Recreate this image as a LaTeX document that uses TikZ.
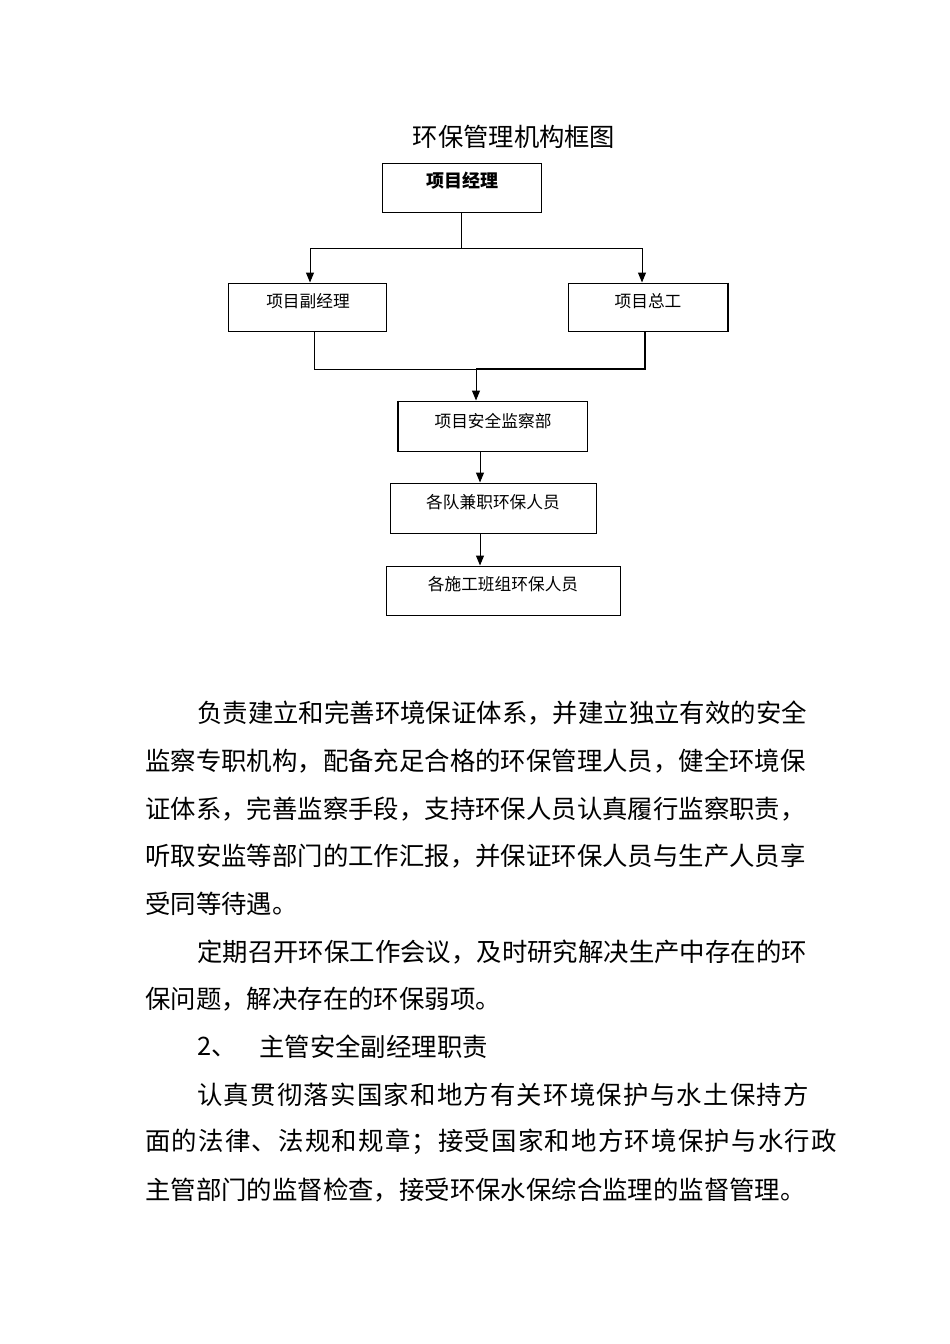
\documentclass[tikz,border=0pt]{standalone}
\usepackage{fontspec}
\newfontfamily\cjk{Noto Sans CJK SC}
\newfontfamily\cjkwide[LetterSpace=4.9]{Noto Sans CJK SC}
\usetikzlibrary{arrows.meta}
\tikzset{
  box/.style={draw=black, line width=1pt, rectangle, inner sep=0pt},
  boxtxt/.style={inner sep=0pt, font=\cjk\fontsize{16.7}{16.7}\selectfont},
  para/.style={inner sep=0pt, anchor=west, font=\cjk\fontsize{25.4}{25.4}\selectfont},
  parawide/.style={para, font=\cjkwide\fontsize{25.4}{25.4}\selectfont},
  conn/.style={draw=black, line width=1pt},
  arr/.style={conn, -{Triangle[length=10pt,width=8pt]}},
}
\begin{document}
\begin{tikzpicture}[x=1pt,y=-1pt]
\useasboundingbox (0,0) rectangle (950,1344);
% title
\node[inner sep=0pt, font=\cjk\fontsize{25.3}{25.3}\selectfont] (title) at (514,137) {环保管理机构框图};
% boxes
\node[box, minimum width=159pt, minimum height=49pt] (pm) at (461.5,187.5) {};
\node[boxtxt, font=\cjk\bfseries\fontsize{18}{18}\selectfont] (pmt) at (462,181) {项目经理};
\node[box, minimum width=158pt, minimum height=48pt] (pvm) at (307,307) {};
\node[boxtxt] (pvmt) at (308,301) {项目副经理};
\node[box, minimum width=159pt, minimum height=48pt] (ce) at (647.5,307) {};
\node[boxtxt] (cet) at (648,301) {项目总工};
\node[box, minimum width=189pt, minimum height=50pt] (sd) at (492.5,426) {};
\node[boxtxt] (sdt) at (493,421) {项目安全监察部};
\node[box, minimum width=206pt, minimum height=50pt] (tp) at (493,508) {};
\node[boxtxt] (tpt) at (493,502) {各队兼职环保人员};
\node[box, minimum width=234pt, minimum height=49pt] (gp) at (503,590.5) {};
\node[boxtxt] (gpt) at (503,584) {各施工班组环保人员};
% thick edges
\draw[line width=2pt] (ce.north east) -- (ce.south east);
\draw[line width=2pt] (sd.north west) -- (sd.south west);
% connectors
\coordinate (j1) at (461.5,248);
\draw[conn] (pm.south) -- (j1);
\draw[arr] (j1) -| ([xshift=3pt]pvm.north);
\draw[arr] (j1) -| ([xshift=-5.5pt]ce.north);
\coordinate (j2) at (476,369);
\draw[conn] ([xshift=7pt]pvm.south) |- (j2);
\draw[conn, line width=1.6pt] ([xshift=-2.5pt]ce.south) |- (j2);
\draw[arr] (j2) -- ([xshift=-16.5pt]sd.north);
\draw[arr] ([xshift=-12.5pt]sd.south) -- ([xshift=-13pt]tp.north);
\draw[arr] ([xshift=-13pt]tp.south) -- ([xshift=-23pt]gp.north);
% paragraphs
\node[para] (l1) at (197,713) {负责建立和完善环境保证体系，并建立独立有效的安全};
\node[para] (l2) at (145,761) {监察专职机构，配备充足合格的环保管理人员，健全环境保};
\node[para] (l3) at (145,809) {证体系，完善监察手段，支持环保人员认真履行监察职责，};
\node[para] (l4) at (145,856) {听取安监等部门的工作汇报，并保证环保人员与生产人员享};
\node[para] (l5) at (145,904) {受同等待遇。};
\node[para] (l6) at (197,952) {定期召开环保工作会议，及时研究解决生产中存在的环};
\node[para] (l7) at (145,999) {保问题，解决存在的环保弱项。};
\node[para] (l8a) at (197,1047) {2、};
\node[para] (l8b) at (259,1047) {主管安全副经理职责};
\node[parawide] (l9) at (197,1095) {认真贯彻落实国家和地方有关环境保护与水土保持方};
\node[parawide] (l10) at (145,1142) {面的法律、法规和规章；接受国家和地方环境保护与水行政};
\node[para] (l11) at (145,1190) {主管部门的监督检查，接受环保水保综合监理的监督管理。};
\end{tikzpicture}
\end{document}
